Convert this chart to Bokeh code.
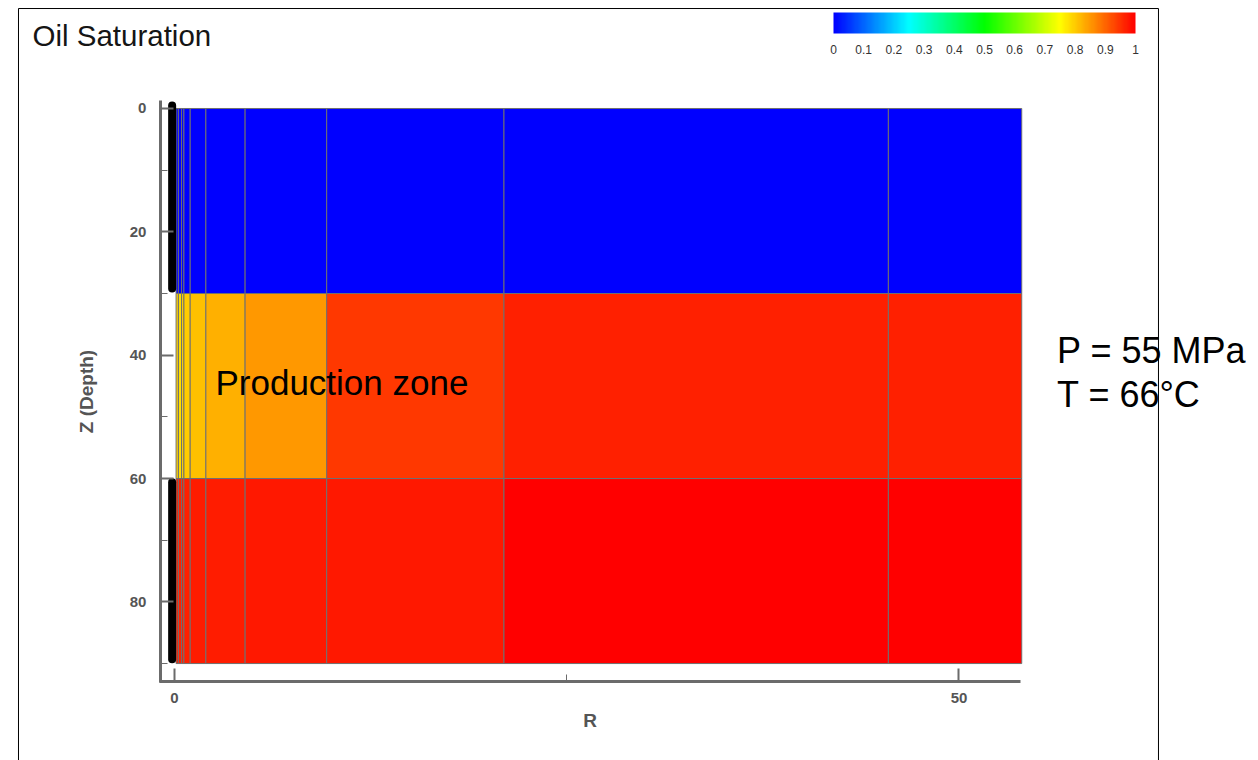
from bokeh.plotting import figure
from bokeh.models import (ColumnDataSource, LinearColorMapper, ColorBar, LinearAxis,
                          Range1d, SingleIntervalTicker, FixedTicker, Label,
                          NumeralTickFormatter, BoxAnnotation)
from bokeh.embed import file_html
from bokeh.resources import INLINE

# Radial cell boundaries (R) and layer boundaries (Z, depth)
r_edges = [0.1, 0.25, 0.45, 0.6, 1.0, 2.0, 4.5, 9.7, 21.0, 45.5, 54.0]
z_edges = [0, 30, 60, 90]

# Oil saturation per cell, one list per layer (top -> bottom)
so_top = [0.0, 0.0, 0.0, 0.0, 0.0, 0.0, 0.0, 0.0, 0.0, 0.0]
so_mid = [0.79, 0.78, 0.79, 0.80, 0.81, 0.825, 0.85, 0.945, 0.966, 0.968]
so_bot = [0.965, 0.966, 0.967, 0.968, 0.969, 0.971, 0.973, 0.976, 1.0, 1.0]

# Well string (cased sections above and below the production zone)
well_r = [-0.15, -0.15]
well_z0 = [-0.5, 60.6]
well_z1 = [29.2, 89.3]

cbar_ticks = [0, 0.1, 0.2, 0.3, 0.4, 0.5, 0.6, 0.7, 0.8, 0.9, 1.0]


def rainbow(n):
    cols = []
    for k in range(n):
        t = k / (n - 1)
        if t < 0.25:
            r, g, b = 0, 255 * t / 0.25, 255
        elif t < 0.5:
            r, g, b = 0, 255, 255 * (1 - (t - 0.25) / 0.25)
        elif t < 0.75:
            r, g, b = 255 * (t - 0.5) / 0.25, 255, 0
        else:
            r, g, b = 255, 255 * (1 - (t - 0.75) / 0.25), 0
        cols.append("#%02x%02x%02x" % (int(round(r)), int(round(g)), int(round(b))))
    return cols


mapper = LinearColorMapper(palette=rainbow(256), low=0, high=1)

left, right, top, bottom, sat = [], [], [], [], []
for i, layer in enumerate([so_top, so_mid, so_bot]):
    for j, v in enumerate(layer):
        left.append(r_edges[j])
        right.append(r_edges[j + 1])
        top.append(z_edges[i])
        bottom.append(z_edges[i + 1])
        sat.append(v)
cells = ColumnDataSource(dict(left=left, right=right, top=top, bottom=bottom, so=sat))

p = figure(width=1258, height=760, output_backend="svg", toolbar_location=None,
           x_range=Range1d(-11.09, 69.09), y_range=Range1d(105.72, -17.51),
           x_axis_type=None, y_axis_type=None,
           min_border_left=0, min_border_right=0, min_border_top=0, min_border_bottom=0)
p.outline_line_color = None
p.background_fill_color = "white"
p.border_fill_color = "white"

# panel border (open at the bottom edge of the page)
p.add_layout(BoxAnnotation(left=-9.943, right=62.715, top=-16.21, bottom=115,
                           fill_color=None, line_color="black", line_width=1,
                           line_alpha=1))

p.quad(left="left", right="right", top="top", bottom="bottom", source=cells,
       fill_color={"field": "so", "transform": mapper}, line_color="#707070", line_width=1)

p.segment(x0=well_r, y0=well_z0, x1=well_r, y1=well_z1, line_color="black",
          line_width=8, line_cap="round")

axis_color = "#6b6b6b"
yaxis = LinearAxis(fixed_location=-0.9, bounds=(-1.3, 93.1),
                   ticker=SingleIntervalTicker(interval=20, num_minor_ticks=2),
                   axis_label="Z (Depth)")
xaxis = LinearAxis(fixed_location=92.9, bounds=(-0.95, 53.95),
                   ticker=SingleIntervalTicker(interval=50, num_minor_ticks=2),
                   axis_label="R")
for ax in (xaxis, yaxis):
    ax.axis_line_color = axis_color
    ax.axis_line_width = 3
    ax.major_tick_line_color = axis_color
    ax.major_tick_line_width = 2
    ax.major_tick_in = 13
    ax.major_tick_out = 0
    ax.minor_tick_line_color = axis_color
    ax.minor_tick_line_width = 1
    ax.minor_tick_in = 7
    ax.minor_tick_out = 0
    ax.major_label_text_font = "Liberation Sans"
    ax.major_label_text_font_style = "bold"
    ax.major_label_text_font_size = "15px"
    ax.major_label_text_color = "#555555"
    ax.axis_label_text_font = "Liberation Sans"
    ax.axis_label_text_font_style = "bold"
    ax.axis_label_text_font_size = "19px"
    ax.axis_label_text_color = "#555555"
yaxis.major_label_standoff = 14
yaxis.axis_label_standoff = 30
xaxis.major_label_standoff = 12
xaxis.axis_label_standoff = 3
p.add_layout(yaxis, "left")
p.add_layout(xaxis, "below")

cbar = ColorBar(color_mapper=mapper, orientation="horizontal", width=302, height=21,
                location=(833, 704), padding=0, margin=0,
                ticker=FixedTicker(ticks=cbar_ticks),
                formatter=NumeralTickFormatter(format="0.[0]"),
                major_tick_line_color=None, minor_tick_line_color=None,
                bar_line_color=None, border_line_color=None, background_fill_color=None,
                label_standoff=11, major_label_text_font="Liberation Sans",
                major_label_text_font_size="12px", major_label_text_color="#333333")
p.add_layout(cbar)

p.add_layout(Label(x=-9.05, y=-11.83, text="Oil Saturation", text_font="Liberation Sans",
                   text_font_size="29.5px", text_color="#151515", text_baseline="alphabetic"))
p.add_layout(Label(x=2.61, y=44.5, text="Production zone", text_font="Liberation Sans",
                   text_font_size="35px", text_color="black", text_baseline="alphabetic"))
p.add_layout(Label(x=56.25, y=39.3, text="P = 55 MPa", text_font="Liberation Sans",
                   text_font_size="36px", text_color="black", text_baseline="alphabetic"))
p.add_layout(Label(x=56.25, y=46.3, text="T = 66\u00b0C", text_font="Liberation Sans",
                   text_font_size="36px", text_color="black", text_baseline="alphabetic"))

open("out.html", "w").write(file_html(p, INLINE))
